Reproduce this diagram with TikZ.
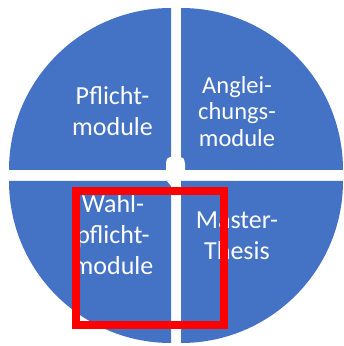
\documentclass[tikz,border=0pt]{standalone}
\usepackage{fontspec}
\newfontfamily\quadfont{Carlito}
\usetikzlibrary{calc}
\definecolor{quadblue}{HTML}{4472C4}

\begin{document}
\begin{tikzpicture}[x=1pt, y=1pt,
	quarter/.style={fill=quadblue},
	label/.style={text=white, align=center, font=\quadfont\fontsize{26}{31}\selectfont},
	smalllabel/.style={label, font=\quadfont\fontsize{24.5}{26.5}\selectfont}]
				\useasboundingbox (0,0) rectangle (344,346);
				\coordinate (TL) at (171,176);
				\coordinate (TR) at (181,176);
				\coordinate (BL) at (171,165);
				\coordinate (BR) at (181,165);
				% four quarters of the circle
				\fill[quarter] (TL) -- +(180:162) arc[start angle=180, end angle=90, radius=162] -- cycle;
				\fill[quarter] (TR) -- +(90:162) arc[start angle=90, end angle=0, radius=162] -- cycle;
				\fill[quarter] (BR) -- +(0:162) arc[start angle=0, end angle=-90, radius=162] -- cycle;
				\fill[quarter] (BL) -- +(270:162) arc[start angle=270, end angle=180, radius=162] -- cycle;
				% white bits in the middle
				\fill[white] (166,176) -- (166,183) .. controls (167,188) .. (171,189) -- (180,189) .. controls (184,188) .. (185,182) -- (185,176) -- cycle;
				\fill[white] (167,165) -- (171,165) -- (171,160) -- cycle;
				\node[label] (pflicht) at (112.5,235) {Pflicht-\\module};
				\node[smalllabel] (angleich) at (237,234.5) {Anglei-\\chungs-\\module};
				\node[label] (wahl) at (113,111) {Wahl-\\pflicht-\\module};
				\node[label] (thesis) at (237,110.5) {Master-\\Thesis};
				\draw[red, line width=8pt] (76,155) rectangle (224,21);
			\end{tikzpicture}
\end{document}
